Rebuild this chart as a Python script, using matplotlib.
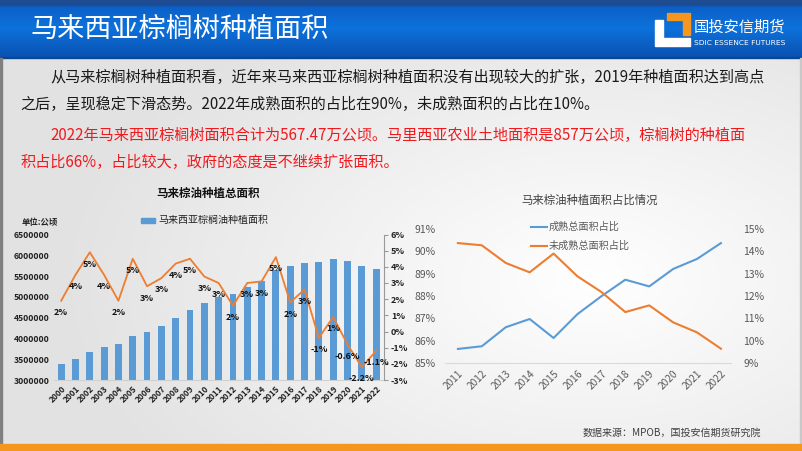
import matplotlib.pyplot as plt
import numpy as np
from matplotlib.patches import Rectangle, Polygon
from matplotlib.ticker import FuncFormatter

plt.rcParams['font.family'] = ['Noto Sans CJK SC', 'DejaVu Sans']

# 数据
years_a = [str(y) for y in range(2000, 2023)]
area = [3376664, 3499012, 3670243, 3802040, 3875327, 4051374, 4165215, 4304913,
        4487957, 4691160, 4853766, 5000109, 5076929, 5229739, 5392235, 5642943,
        5737985, 5811145, 5849330, 5900157, 5865297, 5737731, 5674700]
growth = [1.9, 3.5, 4.9, 3.5, 1.9, 4.5, 2.8, 3.3, 4.2, 4.5, 3.4, 3.0,
          1.6, 3.0, 3.1, 4.6, 1.8, 2.6, -0.4, 0.9, -0.8, -2.2, -1.2]
growth_labels = ['2%', '4%', '5%', '4%', '2%', '5%', '3%', '3%', '4%', '5%', '3%', '3%',
                 '2%', '3%', '3%', '5%', '2%', '3%', '-1%', '1%', '-0.6%', '-2.2%', '-1.1%']

years_b = [str(y) for y in range(2011, 2023)]
mature = [85.63, 85.75, 86.60, 86.97, 86.12, 87.19, 87.99, 88.73, 88.43, 89.21, 89.66, 90.37]
immature = [14.37, 14.27, 13.48, 13.06, 13.90, 12.88, 12.18, 11.28, 11.58, 10.82, 10.37, 9.64]

BLUE = '#5B9BD5'
ORANGE = '#ED7D31'
W, H = 802, 451

fig = plt.figure(figsize=(W / 100, H / 100), dpi=100)

# 背景（像素坐标）
bg = fig.add_axes([0, 0, 1, 1], zorder=-5)
bg.set_xlim(0, W)
bg.set_ylim(H, 0)
bg.axis('off')

yy, xx = np.mgrid[0:H, 0:W]
r = np.sqrt(((xx - 590) / 520.0) ** 2 + ((yy - 280) / 300.0) ** 2)
r = np.clip(r, 0, 1)
shade = 1.0 - 0.11 * r
bg.imshow(np.dstack([shade, shade, shade]), extent=[0, W, H, 0], aspect='auto', zorder=0)

# 顶部标题栏
t = np.linspace(0, 1, 60)[:, None]
top = np.array([0x0B, 0x5E, 0xC4]) / 255
mid = np.array([0x0D, 0x72, 0xDC]) / 255
bot = np.array([0x0A, 0x52, 0xB2]) / 255
grad = np.where(t < 0.45, top + (mid - top) * (t / 0.45), mid + (bot - mid) * ((t - 0.45) / 0.55))
bg.imshow(grad[:, None, :].repeat(2, axis=1), extent=[0, W, 57, 4], aspect='auto', zorder=1)
bg.add_patch(Rectangle((0, 0), W, 4.5, color='#1D4C92', zorder=2))
bg.add_patch(Rectangle((0, 56.5), W, 1.5, color='#0A468F', zorder=2))
bg.add_patch(Rectangle((0, 58), 2, 386, color='#808080', zorder=2))
bg.add_patch(Rectangle((W - 2, 58), 2, 386, color='#C8C8C8', zorder=2))
bg.add_patch(Rectangle((0, 444), W, 7, color='#F5961E', zorder=2))

bg.text(30, 29, '马来西亚棕榈树种植面积', color='white', fontsize=19.5, va='center', ha='left', zorder=3)

# logo
bg.add_patch(Polygon([(655, 20), (663, 20), (663, 38), (690, 38), (690, 46), (655, 46)],
                     closed=True, color='white', zorder=3))
bg.add_patch(Polygon([(667, 13), (690, 13), (690, 35), (683, 35), (683, 20), (667, 20)],
                     closed=True, color='#F5961E', zorder=3))
bg.text(694, 27, '国投安信期货', color='white', fontsize=11, va='center', ha='left', zorder=3)
bg.text(694, 43, 'SDIC ESSENCE FUTURES', color='white', fontsize=5.4, va='center', ha='left',
        family='Liberation Sans Narrow', zorder=3)

# 正文
fs = 10.9
bg.text(50, 77, '从马来棕榈树种植面积看，近年来马来西亚棕榈树种植面积没有出现较大的扩张，2019年种植面积达到高点',
        fontsize=fs, color='#1A1A1A', va='center', ha='left', zorder=3)
bg.text(20, 104, '之后，呈现稳定下滑态势。2022年成熟面积的占比在90%，未成熟面积的占比在10%。',
        fontsize=fs, color='#1A1A1A', va='center', ha='left', zorder=3)
bg.text(50, 135, '2022年马来西亚棕榈树面积合计为567.47万公顷。马里西亚农业土地面积是857万公顷，棕榈树的种植面',
        fontsize=fs, color='#F0191E', va='center', ha='left', zorder=3)
bg.text(20, 162, '积占比66%，占比较大，政府的态度是不继续扩张面积。',
        fontsize=fs, color='#F0191E', va='center', ha='left', zorder=3)

# 左图标题、图例、单位
bg.text(208, 193, '马来棕油种植总面积', fontsize=8.3, fontweight='bold', color='#111111',
        ha='center', va='center', zorder=3)
bg.add_patch(Rectangle((141, 218), 14, 4.5, color=BLUE, zorder=3))
bg.text(158, 220, '马来西亚棕榈油种植面积', fontsize=7.2, color='#222222', ha='left', va='center', zorder=3)
bg.text(22, 222, '单位:公顷', fontsize=6, fontweight='bold', color='#222222', ha='left', va='center', zorder=3)

# 右图标题、图例
bg.text(590, 200, '马来棕油种植面积占比情况', fontsize=8.2, color='#404040', ha='center', va='center', zorder=3)
bg.plot([531, 547], [227, 227], color=BLUE, lw=1.5, zorder=3)
bg.text(549, 227, '成熟总面积占比', fontsize=7.3, color='#595959', ha='left', va='center', zorder=3)
bg.plot([531, 547], [246, 246], color=ORANGE, lw=1.5, zorder=3)
bg.text(549, 246, '未成熟总面积占比', fontsize=7.3, color='#595959', ha='left', va='center', zorder=3)

bg.text(583, 433, '数据来源：MPOB，国投安信期货研究院', fontsize=7.2, color='#404040',
        ha='left', va='center', zorder=3)

# 左图：柱状 + 增速折线
ax1 = fig.add_axes([54 / W, 1 - 380 / H, 330 / W, 145.5 / H])
ax1.set_facecolor('none')
x1 = np.arange(len(years_a))
ax1.bar(x1, area, width=0.48, color=BLUE, zorder=2)
ax1.set_ylim(3000000, 6500000)
ax1.set_yticks(np.arange(3000000, 6500001, 500000))
ax1.yaxis.set_major_formatter(FuncFormatter(lambda v, p: '%d' % v))
ax1.set_xlim(-0.5, 22.55)
ax1.set_xticks(x1)
ax1.set_xticklabels(years_a, rotation=45, ha='right', rotation_mode='anchor',
                    fontsize=6, fontweight='bold', color='#222222')
ax1.tick_params(axis='x', length=0, pad=3)
ax1.tick_params(axis='y', length=0, pad=3, labelsize=6.2, labelcolor='#222222')
for lb in ax1.get_yticklabels():
    lb.set_fontweight('bold')
for s in ['top', 'right', 'left']:
    ax1.spines[s].set_visible(False)
ax1.spines['bottom'].set_color('#D0D0D0')

ax1r = ax1.twinx()
ax1r.plot(x1, growth, color=ORANGE, lw=1.3, zorder=3)
ax1r.set_ylim(-3, 6)
ax1r.set_yticks(range(-3, 7))
ax1r.yaxis.set_major_formatter(FuncFormatter(lambda v, p: '%d%%' % v))
ax1r.tick_params(axis='y', length=3, pad=2, labelsize=6.5, labelcolor='#222222', color='#999999')
for lb in ax1r.get_yticklabels():
    lb.set_fontweight('bold')
for s in ['top', 'left', 'bottom']:
    ax1r.spines[s].set_visible(False)
ax1r.spines['right'].set_color('#999999')
for xi, g, lab in zip(x1, growth, growth_labels):
    ax1r.annotate(lab, (xi, g), xytext=(0, -8.5), textcoords='offset points',
                  ha='center', va='center', fontsize=6.5, fontweight='bold', color='#111111')

# 右图：成熟/未成熟占比
ax2 = fig.add_axes([445 / W, 1 - 363 / H, 286 / W, 134 / H])
ax2.set_facecolor('none')
x2 = np.arange(len(years_b))
ax2.plot(x2, mature, color=BLUE, lw=1.5)
ax2.set_ylim(85, 91)
ax2.set_yticks(range(85, 92))
ax2.yaxis.set_major_formatter(FuncFormatter(lambda v, p: '%d%%' % v))
ax2.set_xlim(-0.54, 11.42)
ax2.set_xticks(x2)
ax2.set_xticklabels(years_b, rotation=45, ha='right', rotation_mode='anchor', fontsize=7.3, color='#595959')
ax2.tick_params(axis='x', length=0, pad=4)
ax2.tick_params(axis='y', length=0, pad=7, labelsize=7.5, labelcolor='#595959')
for s in ['top', 'right', 'left']:
    ax2.spines[s].set_visible(False)
ax2.spines['bottom'].set_color('#D9D9D9')

ax2r = ax2.twinx()
ax2r.plot(x2, immature, color=ORANGE, lw=1.5)
ax2r.set_ylim(9, 15)
ax2r.set_yticks(range(9, 16))
ax2r.yaxis.set_major_formatter(FuncFormatter(lambda v, p: '%d%%' % v))
ax2r.tick_params(axis='y', length=0, pad=9, labelsize=7.5, labelcolor='#595959')
for s in ['top', 'left', 'bottom', 'right']:
    ax2r.spines[s].set_visible(False)

fig.savefig('out.png', dpi=100)
